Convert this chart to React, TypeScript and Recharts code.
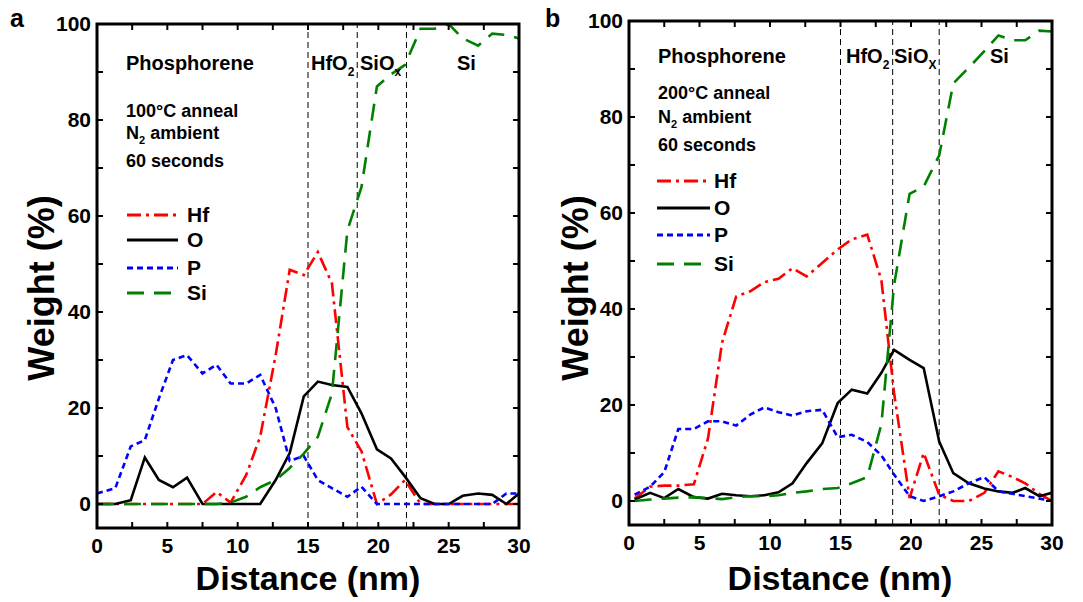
import { LineChart, Line, XAxis, YAxis, ReferenceLine } from "recharts";

const FONT = "Arial, 'Liberation Sans', Helvetica, sans-serif";

// panel a: 100 °C anneal
const distanceA = [0, 1.3, 2.4, 3.4, 4.4, 5.4, 6.4, 7.5, 8.5, 9.5, 10.6, 11.6, 12.7, 13.7, 14.7, 15.7, 16.7, 17.8, 18.8, 19.9, 20.9, 21.9, 23.0, 24.0, 25.0, 26.0, 27.1, 28.1, 29.1, 30.0];
const hfA = [0, 0, 0, 0, 0, 0, 0, 0, 2.5, 0.3, 6, 14, 31, 48.8, 47.7, 52.5, 46, 16, 11, 0, 2, 5, 0, 0, 0, 0, 0, 0, 0, 0];
const oA = [0, 0, 0.8, 9.7, 5, 3.5, 5.5, 0, 0, 0, 0, 0, 5, 10.6, 22.4, 25.5, 24.8, 24.4, 18.9, 11.4, 9.5, 5.7, 1.2, 0, 0, 1.7, 2.2, 1.9, 0, 2.2];
const pA = [2.2, 3.3, 12, 13.3, 22, 30, 31, 27.2, 29, 25.1, 25.1, 26.9, 20, 9, 10, 5, 3.3, 1.5, 3.6, 0, 0, 0, 0, 0, 0, 0, 0, 0, 2.2, 2.2];
const siA = [0, 0, 0, 0, 0, 0, 0, 0, 0, 0.3, 1.5, 3.5, 5, 7.5, 10.5, 14, 23, 57, 66, 87, 89.5, 91.5, 99, 99, 100, 97, 95.5, 98, 97.7, 97];

// panel b: 200 °C anneal
const distanceB = [0.4, 1.5, 2.5, 3.5, 4.6, 5.6, 6.6, 7.6, 8.6, 9.6, 10.6, 11.6, 12.6, 13.7, 14.8, 15.8, 16.9, 17.9, 18.8, 19.9, 20.9, 22.0, 23.0, 24.1, 25.2, 26.2, 27.2, 28.1, 29.1, 30.0];
const hfB = [0.5, 3, 3.2, 3.2, 3.5, 13, 33, 42.6, 43.7, 45.6, 46.3, 48.5, 46.8, 49.6, 52.4, 54.5, 55.5, 46, 22.5, 0.6, 10, 1.3, 0, 0, 1.7, 6.2, 5, 3.7, 1.5, 0];
const oB = [0.3, 1.7, 0.6, 2.5, 0.8, 0.5, 1.5, 1.2, 1.0, 1.2, 1.8, 3.7, 7.9, 12, 20.4, 23.2, 22.4, 26.7, 31.5, 29.4, 27.7, 12.4, 5.8, 3.7, 2.6, 2, 1.7, 2.7, 1, 1.7];
const pB = [1.3, 3, 6, 15, 15, 16.6, 16.6, 15.7, 18, 19.5, 18.5, 17.8, 18.7, 19, 13.3, 13.8, 12.3, 9.5, 5.5, 1, 0, 1, 2, 3.7, 5, 2, 1.5, 1, 0.5, 0];
const siB = [0, 0.3, 0.5, 0.7, 0.8, 0.6, 0.4, 0.8, 1, 1, 1.2, 1.7, 2, 2.5, 2.7, 3.7, 5, 16, 45, 64, 65.5, 72, 87, 90.3, 93.7, 97, 96, 96, 98, 97.8];

const layersA = [15, 18.5, 22];
const layersB = [15, 18.7, 22];

const xTicks = [0, 2.5, 5, 7.5, 10, 12.5, 15, 17.5, 20, 22.5, 25, 27.5, 30];
const yTicks = [0, 10, 20, 30, 40, 50, 60, 70, 80, 90, 100];
const X_DOMAIN = [0, 30];
const Y_DOMAIN = [-5, 100];

const series = [
  { key: "Hf", color: "#ff0000", dash: "14 5 3 5" },
  { key: "O", color: "#000000", dash: undefined },
  { key: "P", color: "#0000ff", dash: "6 4" },
  { key: "Si", color: "#008000", dash: "17 10" },
];

const buildRows = (dist: number[], hf: number[], o: number[], p: number[], si: number[]) =>
  dist.map((d, i) => ({ distance: d, Hf: hf[i], O: o[i], P: p[i], Si: si[i] }));

const rowsA = buildRows(distanceA, hfA, oA, pA, siA);
const rowsB = buildRows(distanceB, hfB, oB, pB, siB);

const tickStyle = { fill: "#000", fontSize: 21, fontWeight: 700, fontFamily: FONT };

// chart boxes: left edge of chart, its width, and plot margins
const boxA = { left: 0, width: 540, top: 24, right: 21, yWidth: 97, xHeight: 74 };
const boxB = { left: 540, width: 543, top: 21, right: 31, yWidth: 89, xHeight: 77 };
const H = 602;

type Box = typeof boxA;

function Panel({ rows, layers, box }: { rows: Record<string, number>[]; layers: number[]; box: Box }) {
  return (
    <div style={{ position: "absolute", left: box.left, top: 0 }}>
      <LineChart width={box.width} height={H} data={rows} margin={{ top: box.top, right: box.right, left: 0, bottom: 0 }}>
        <XAxis
          dataKey="distance"
          type="number"
          domain={X_DOMAIN}
          ticks={xTicks}
          interval={0}
          allowDataOverflow
          height={box.xHeight}
          tickSize={0}
          tickMargin={10}
          tickFormatter={(v) => (v % 5 === 0 ? String(v) : "")}
          tick={tickStyle}
          axisLine={false}
          tickLine={false}
        />
        <YAxis
          type="number"
          domain={Y_DOMAIN}
          ticks={yTicks}
          interval={0}
          allowDataOverflow
          width={box.yWidth}
          tickSize={0}
          tickMargin={6}
          tickFormatter={(v) => (v % 20 === 0 ? String(v) : "")}
          tick={tickStyle}
          axisLine={false}
          tickLine={false}
        />
        {layers.map((x) => (
          <ReferenceLine key={x} x={x} stroke="#000" strokeWidth={1} strokeDasharray="6 4" />
        ))}
        {series.map((s) => (
          <Line
            key={s.key}
            type="linear"
            dataKey={s.key}
            stroke={s.color}
            strokeWidth={2.6}
            strokeDasharray={s.dash}
            dot={false}
            isAnimationActive={false}
          />
        ))}
      </LineChart>
    </div>
  );
}

// frame with inward ticks on all four sides, aligned to the same plot box
function Frame({ box }: { box: Box }) {
  const x0 = box.left + box.yWidth;
  const x1 = box.left + box.width - box.right;
  const y0 = box.top;
  const y1 = H - box.xHeight;
  const px = (v: number) => x0 + ((v - X_DOMAIN[0]) / (X_DOMAIN[1] - X_DOMAIN[0])) * (x1 - x0);
  const py = (v: number) => y1 - ((v - Y_DOMAIN[0]) / (Y_DOMAIN[1] - Y_DOMAIN[0])) * (y1 - y0);
  const len = 6;
  return (
    <g stroke="#000" fill="none">
      {xTicks.map((t) => (
        <g key={"x" + t} strokeWidth={2}>
          <line x1={px(t)} x2={px(t)} y1={y1} y2={y1 - len} />
          <line x1={px(t)} x2={px(t)} y1={y0} y2={y0 + len} />
        </g>
      ))}
      {yTicks.map((t) => (
        <g key={"y" + t} strokeWidth={2}>
          <line x1={x0} x2={x0 + len} y1={py(t)} y2={py(t)} />
          <line x1={x1} x2={x1 - len} y1={py(t)} y2={py(t)} />
        </g>
      ))}
      <rect x={x0} y={y0} width={x1 - x0} height={y1 - y0} strokeWidth={3} />
    </g>
  );
}

type NoteProps = {
  x0: number;
  layerXs: number[];
  siX: number;
  headY: number;
  anneal: string;
  lineYs: number[];
  legendY: number[];
  legendX: number[];
  sub: string;
};

function Notes({ x0, layerXs, siX, headY, anneal, lineYs, legendY, legendX, sub }: NoteProps) {
  return (
    <g fontFamily={FONT} fontWeight={700} fill="#000">
      <text x={x0} y={headY} fontSize={20}>Phosphorene</text>
      <text x={layerXs[0]} y={headY} fontSize={20}>
        HfO<tspan fontSize={12} dy={6}>2</tspan>
      </text>
      <text x={layerXs[1]} y={headY} fontSize={20}>
        SiO<tspan fontSize={12} dy={6}>{sub}</tspan>
      </text>
      <text x={siX} y={headY} fontSize={20}>Si</text>
      <text x={x0} y={lineYs[0]} fontSize={18}>{anneal}</text>
      <text x={x0} y={lineYs[1]} fontSize={18}>
        N<tspan fontSize={11} dy={5}>2</tspan>
        <tspan dy={-5}> ambient</tspan>
      </text>
      <text x={x0} y={lineYs[2]} fontSize={18}>60 seconds</text>
      {series.map((s, i) => (
        <g key={s.key}>
          <line
            x1={legendX[0]}
            x2={legendX[1]}
            y1={legendY[i] - 7}
            y2={legendY[i] - 7}
            stroke={s.color}
            strokeWidth={3}
            strokeDasharray={s.dash}
          />
          <text x={legendX[2]} y={legendY[i]} fontSize={21}>{s.key}</text>
        </g>
      ))}
    </g>
  );
}

export default function App() {
  return (
    <div style={{ position: "absolute", left: 0, top: 0, width: 1083, height: H, background: "#fff", overflow: "hidden" }}>
      <Panel rows={rowsA} layers={layersA} box={boxA} />
      <Panel rows={rowsB} layers={layersB} box={boxB} />
      <svg width={1083} height={H} style={{ position: "absolute", left: 0, top: 0, pointerEvents: "none" }}>
        <Frame box={boxA} />
        <Frame box={boxB} />
        <g fontFamily={FONT} fontWeight={700} fill="#000">
          <text x={10} y={27} fontSize={25}>a</text>
          <text x={545} y={27} fontSize={25}>b</text>
          <text x={54} y={288} fontSize={36} textAnchor="middle" transform="rotate(-90 54 288)">Weight (%)</text>
          <text x={588} y={288} fontSize={36} textAnchor="middle" transform="rotate(-90 588 288)">Weight (%)</text>
          <text x={308} y={590} fontSize={34} textAnchor="middle">Distance (nm)</text>
          <text x={840} y={590} fontSize={34} textAnchor="middle">Distance (nm)</text>
        </g>
        <Notes
          x0={126}
          layerXs={[311, 360]}
          siX={457}
          headY={70}
          anneal="100°C anneal"
          lineYs={[117, 139, 167]}
          legendY={[222, 247, 275, 300]}
          legendX={[127, 178, 187]}
          sub="x"
        />
        <Notes
          x0={658}
          layerXs={[846, 894]}
          siX={990}
          headY={63}
          anneal="200°C anneal"
          lineYs={[99, 123, 151]}
          legendY={[188, 215, 242, 271]}
          legendX={[657, 710, 714]}
          sub="X"
        />
      </svg>
    </div>
  );
}
